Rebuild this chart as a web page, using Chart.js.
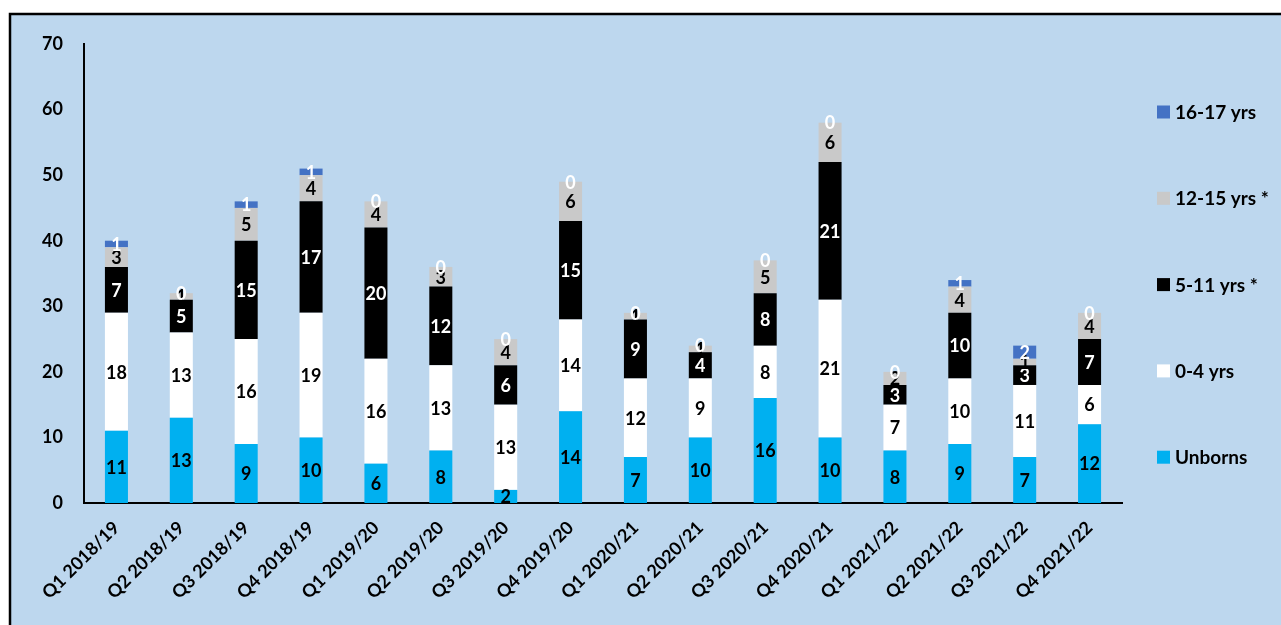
<!DOCTYPE html>
<html>
<head>
<meta charset="utf-8">
<title>Children by age group, quarterly</title>
<script src="https://cdn.jsdelivr.net/npm/chart.js@4.4.1/dist/chart.umd.min.js"></script>
<style>
  html, body { margin: 0; padding: 0; background: #ffffff; overflow: hidden; }
  #wrap { width: 1281px; height: 625px; position: relative; }
</style>
</head>
<body>
<div id="wrap"><canvas id="c" width="1281" height="625"></canvas></div>
<script>
// Quarterly counts by age group
const quarters = [
  'Q1 2018/19', 'Q2 2018/19', 'Q3 2018/19', 'Q4 2018/19',
  'Q1 2019/20', 'Q2 2019/20', 'Q3 2019/20', 'Q4 2019/20',
  'Q1 2020/21', 'Q2 2020/21', 'Q3 2020/21', 'Q4 2020/21',
  'Q1 2021/22', 'Q2 2021/22', 'Q3 2021/22', 'Q4 2021/22'
];
const unborns   = [11, 13,  9, 10,  6,  8,  2, 14,  7, 10, 16, 10,  8,  9,  7, 12];
const age0to4   = [18, 13, 16, 19, 16, 13, 13, 14, 12,  9,  8, 21,  7, 10, 11,  6];
const age5to11  = [ 7,  5, 15, 17, 20, 12,  6, 15,  9,  4,  8, 21,  3, 10,  3,  7];
const age12to15 = [ 3,  1,  5,  4,  4,  3,  4,  6,  1,  1,  5,  6,  2,  4,  1,  4];
const age16to17 = [ 1,  0,  1,  1,  0,  0,  0,  0,  0,  0,  0,  0,  0,  1,  2,  0];
const yTicks = [0, 10, 20, 30, 40, 50, 60, 70];

const FONT = 'Lato, "Open Sans", "DejaVu Sans", sans-serif';

// Light blue panel with a black frame on its left and top edges
const framePlugin = {
  id: 'frame',
  beforeDraw(chart) {
    const ctx = chart.ctx;
    ctx.save();
    ctx.fillStyle = '#ffffff';
    ctx.fillRect(0, 0, chart.width, chart.height);
    ctx.fillStyle = '#bdd7ee';
    ctx.fillRect(10, 14, chart.width - 10, chart.height - 14);
    ctx.strokeStyle = '#000000';
    ctx.lineWidth = 2.5;
    ctx.beginPath();
    ctx.moveTo(10, chart.height);
    ctx.lineTo(10, 14);
    ctx.lineTo(chart.width, 14);
    ctx.stroke();
    ctx.restore();
  }
};

// Value labels centred on each stacked segment
const segmentLabels = {
  id: 'segmentLabels',
  afterDatasetsDraw(chart) {
    const ctx = chart.ctx;
    ctx.save();
    ctx.font = 'bold 18px ' + FONT;
    ctx.textAlign = 'center';
    ctx.textBaseline = 'middle';
    chart.data.datasets.forEach((ds, i) => {
      const meta = chart.getDatasetMeta(i);
      if (meta.hidden) return;
      ctx.fillStyle = ds.labelColor;
      meta.data.forEach((bar, j) => {
        const p = bar.getProps(['x', 'y', 'base'], true);
        ctx.fillText(String(ds.data[j]), p.x, (p.y + p.base) / 2 + 1);
      });
    });
    ctx.restore();
  }
};

// Vertical legend to the right of the plot, top series first
const sideLegend = {
  id: 'sideLegend',
  afterDraw(chart, args, opts) {
    const ctx = chart.ctx;
    const sets = chart.data.datasets.slice().reverse();
    ctx.save();
    ctx.font = 'bold 19px ' + FONT;
    ctx.textAlign = 'left';
    ctx.textBaseline = 'middle';
    sets.forEach((ds, k) => {
      const cy = opts.top + k * opts.gap;
      ctx.fillStyle = ds.backgroundColor;
      ctx.fillRect(opts.x, cy - opts.box / 2, opts.box, opts.box);
      ctx.fillStyle = '#000000';
      ctx.fillText(ds.label, opts.x + opts.box + 5, cy + 1);
    });
    ctx.restore();
  }
};

new Chart(document.getElementById('c'), {
  type: 'bar',
  data: {
    labels: quarters,
    datasets: [
      { label: 'Unborns',     data: unborns,   backgroundColor: '#00b0f0', labelColor: '#000000' },
      { label: '0-4 yrs',     data: age0to4,   backgroundColor: '#ffffff', labelColor: '#000000' },
      { label: '5-11 yrs *',  data: age5to11,  backgroundColor: '#000000', labelColor: '#ffffff' },
      { label: '12-15 yrs *', data: age12to15, backgroundColor: '#c9c9c9', labelColor: '#000000' },
      { label: '16-17 yrs',   data: age16to17, backgroundColor: '#4472c4', labelColor: '#ffffff' }
    ]
  },
  options: {
    responsive: false,
    animation: false,
    devicePixelRatio: 1,
    layout: { padding: { top: 44, right: 159, bottom: 0, left: 0 } },
    datasets: {
      bar: { barPercentage: 1, categoryPercentage: 0.355, borderWidth: 0 }
    },
    plugins: {
      legend: { display: false },
      tooltip: { enabled: false },
      sideLegend: { x: 1157, top: 112, gap: 86.3, box: 13 }
    },
    scales: {
      x: {
        stacked: true,
        grid: { display: false, drawTicks: false },
        border: { display: true, color: '#000000', width: 2 },
        ticks: {
          autoSkip: false,
          minRotation: 45,
          maxRotation: 45,
          padding: 14,
          color: '#000000',
          font: { family: FONT, size: 18, weight: 'bold' }
        },
        afterFit(scale) { scale.height = 122; }
      },
      y: {
        stacked: true,
        min: yTicks[0],
        max: yTicks[yTicks.length - 1],
        grid: { display: false, drawTicks: false },
        border: { display: true, color: '#000000', width: 2 },
        afterBuildTicks(scale) { scale.ticks = yTicks.map(v => ({ value: v })); },
        ticks: {
          padding: 21,
          color: '#000000',
          font: { family: FONT, size: 18, weight: 'bold' }
        },
        afterFit(scale) { scale.width = 84; }
      }
    }
  },
  plugins: [framePlugin, segmentLabels, sideLegend]
});
</script>
</body>
</html>
